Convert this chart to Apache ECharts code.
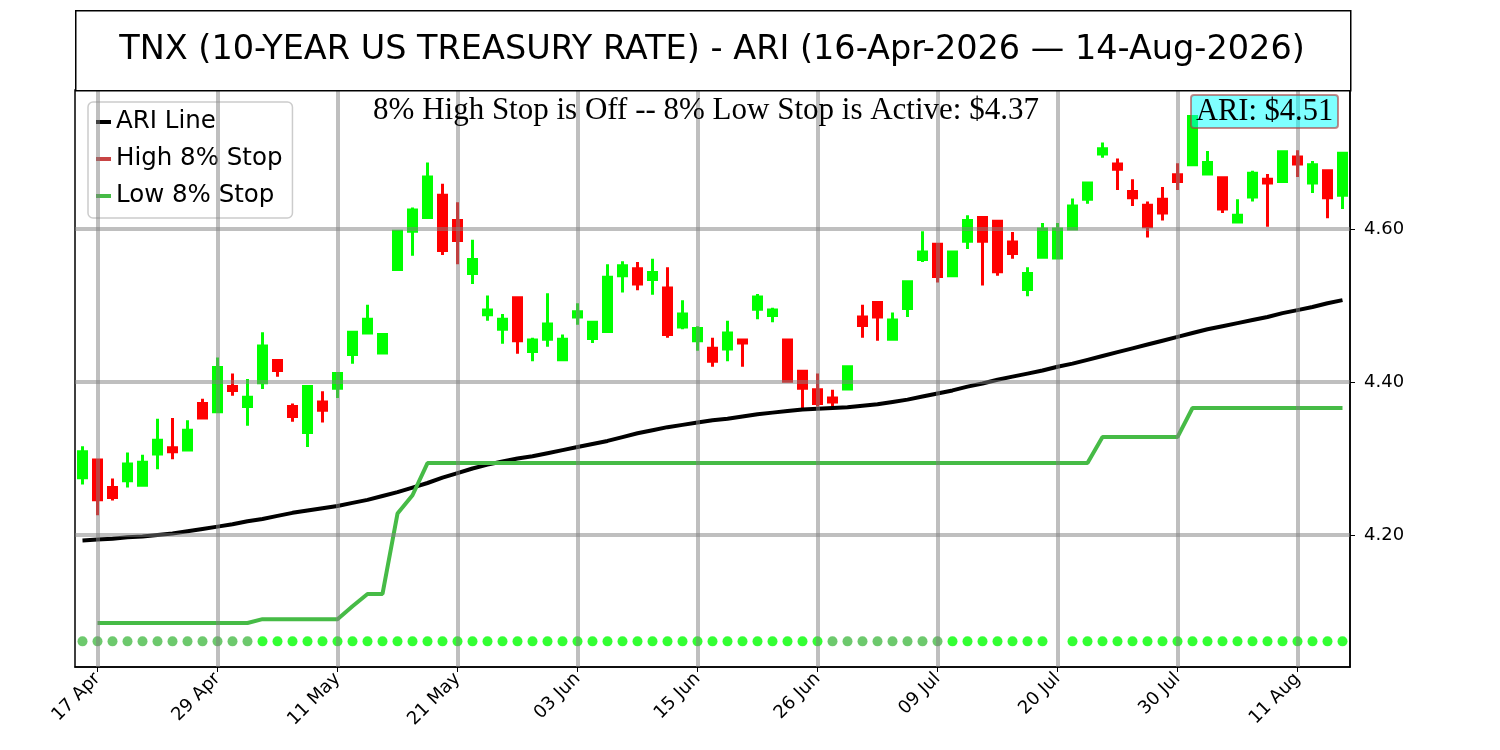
<!DOCTYPE html>
<html style="height: 100%">
<head>
<meta charset="utf-8">
<script src="https://cdn.jsdelivr.net/npm/echarts@6/dist/echarts.min.js"></script>
<style type="text/css">
  * { margin: 0; padding: 0; }
</style>
</head>
<body style="height: 100%; margin: 0; background: #fff">
<div id="container" style="width: 1500px; height: 750px"></div>
<script type="text/javascript">
// trading days shown on the x axis
var dates = ['16 Apr','17 Apr','20 Apr','21 Apr','22 Apr','23 Apr','24 Apr','27 Apr','28 Apr','29 Apr','30 Apr',
  '01 May','04 May','05 May','06 May','07 May','08 May','11 May','12 May','13 May','14 May','15 May','18 May','19 May',
  '20 May','21 May','22 May','26 May','27 May','28 May','29 May',
  '01 Jun','02 Jun','03 Jun','04 Jun','05 Jun','08 Jun','09 Jun','10 Jun','11 Jun','12 Jun','15 Jun','16 Jun','17 Jun',
  '18 Jun','22 Jun','23 Jun','24 Jun','25 Jun','26 Jun','29 Jun','30 Jun',
  '01 Jul','02 Jul','06 Jul','07 Jul','08 Jul','09 Jul','10 Jul','13 Jul','14 Jul','15 Jul','16 Jul','17 Jul','18 Jul',
  '20 Jul','21 Jul','22 Jul','23 Jul','24 Jul','27 Jul','28 Jul','29 Jul','30 Jul','31 Jul',
  '03 Aug','04 Aug','05 Aug','06 Aug','07 Aug','10 Aug','11 Aug','12 Aug','13 Aug','14 Aug'];

// labelled ticks (with grid lines)
var tickDates = ['17 Apr','29 Apr','11 May','21 May','03 Jun','15 Jun','26 Jun','09 Jul','20 Jul','30 Jul','11 Aug'];
var yTicks = [4.20, 4.40, 4.60];

// [open, close, low, high]
var ohlc = [
  [4.275,4.309,4.266,4.316],[4.298,4.246,4.226,4.298],[4.262,4.249,4.245,4.274],[4.271,4.293,4.262,4.308],
  [4.265,4.295,4.265,4.305],[4.306,4.324,4.286,4.352],[4.314,4.309,4.299,4.353],[4.311,4.337,4.311,4.350],
  [4.372,4.353,4.352,4.378],[4.361,4.419,4.361,4.432],[4.394,4.389,4.382,4.411],[4.368,4.380,4.343,4.404],
  [4.399,4.447,4.391,4.465],[4.428,4.415,4.407,4.430],[4.368,4.355,4.348,4.372],[4.334,4.394,4.315,4.396],
  [4.374,4.363,4.347,4.388],[4.392,4.411,4.379,4.411],[4.436,4.465,4.424,4.466],[4.464,4.482,4.462,4.501],
  [4.438,4.462,4.438,4.462],[4.547,4.597,4.547,4.599],[4.597,4.625,4.565,4.628],[4.615,4.668,4.613,4.687],
  [4.644,4.572,4.566,4.659],[4.611,4.585,4.554,4.635],[4.542,4.560,4.528,4.586],[4.488,4.494,4.480,4.513],
  [4.469,4.482,4.450,4.489],[4.510,4.454,4.437,4.510],[4.440,4.455,4.427,4.458],[4.456,4.476,4.446,4.516],
  [4.429,4.456,4.428,4.462],[4.485,4.492,4.475,4.503],[4.457,4.478,4.451,4.479],[4.466,4.537,4.466,4.554],
  [4.539,4.552,4.517,4.558],[4.548,4.528,4.520,4.557],[4.534,4.543,4.514,4.561],[4.523,4.462,4.458,4.550],
  [4.472,4.489,4.469,4.507],[4.454,4.470,4.441,4.473],[4.444,4.427,4.420,4.458],[4.443,4.464,4.427,4.480],
  [4.455,4.451,4.420,4.455],[4.495,4.511,4.482,4.515],[4.487,4.494,4.478,4.497],[4.455,4.401,4.399,4.455],
  [4.414,4.392,4.364,4.415],[4.390,4.372,4.368,4.411],[4.379,4.374,4.368,4.390],[4.391,4.420,4.389,4.422],
  [4.485,4.474,4.458,4.501],[4.504,4.485,4.454,4.504],[4.456,4.481,4.456,4.491],[4.496,4.531,4.485,4.533],
  [4.560,4.570,4.557,4.597],[4.580,4.538,4.530,4.581],[4.539,4.570,4.539,4.571],[4.584,4.611,4.574,4.618],
  [4.615,4.584,4.526,4.615],[4.610,4.544,4.539,4.610],[4.583,4.568,4.561,4.596],[4.521,4.542,4.512,4.550],
  [4.563,4.600,4.561,4.608],[4.562,4.600,4.560,4.608],[4.600,4.630,4.600,4.640],[4.639,4.660,4.633,4.661],
  [4.698,4.705,4.693,4.713],[4.685,4.678,4.651,4.692],[4.649,4.641,4.630,4.665],[4.631,4.603,4.589,4.636],
  [4.639,4.621,4.611,4.655],[4.671,4.662,4.651,4.686],[4.684,4.747,4.682,4.748],[4.672,4.687,4.672,4.702],
  [4.667,4.626,4.621,4.668],[4.609,4.618,4.609,4.639],[4.642,4.673,4.636,4.676],[4.665,4.660,4.603,4.672],
  [4.662,4.701,4.662,4.703],[4.694,4.685,4.668,4.703],[4.660,4.684,4.647,4.689],[4.676,4.641,4.614,4.676],
  [4.644,4.699,4.626,4.700]
];

var ariLine = [4.193,4.194,4.195,4.197,4.198,4.200,4.202,4.205,4.208,4.211,4.214,4.218,4.221,4.225,4.229,4.232,
  4.235,4.238,4.242,4.246,4.251,4.256,4.262,4.268,4.275,4.281,4.287,4.292,4.296,4.300,4.303,4.307,4.311,4.315,
  4.319,4.323,4.328,4.333,4.337,4.341,4.344,4.347,4.350,4.352,4.355,4.358,4.360,4.362,4.364,4.365,4.366,4.367,
  4.369,4.371,4.374,4.377,4.381,4.385,4.389,4.394,4.398,4.403,4.407,4.411,4.415,4.420,4.424,4.429,4.434,4.439,
  4.444,4.449,4.454,4.459,4.464,4.469,4.473,4.477,4.481,4.485,4.490,4.494,4.498,4.503,4.507];

// high stop is off
var highStop = [];

var lowStop = [null,4.085,4.085,4.085,4.085,4.085,4.085,4.085,4.085,4.085,4.085,4.085,4.090,4.090,4.090,4.090,
  4.090,4.090,4.107,4.123,4.123,4.228,4.252,4.294,4.294,4.294,4.294,4.294,4.294,4.294,4.294,4.294,4.294,4.294,
  4.294,4.294,4.294,4.294,4.294,4.294,4.294,4.294,4.294,4.294,4.294,4.294,4.294,4.294,4.294,4.294,4.294,4.294,
  4.294,4.294,4.294,4.294,4.294,4.294,4.294,4.294,4.294,4.294,4.294,4.294,4.294,4.294,4.294,4.294,4.328,4.328,
  4.328,4.328,4.328,4.328,4.366,4.366,4.366,4.366,4.366,4.366,4.366,4.366,4.366,4.366,4.366];

// signal dots along the bottom: 0 = dim, 1 = bright, null = none
var dotLevel = 4.061;
var dotState = [0,0,0,0,0,0,0,0,0,0,0,0,1,1,1,1,1,1,1,1,1,1,1,1,1,1,1,1,1,1,1,1,1,1,1,1,1,1,1,1,1,1,1,1,1,1,1,1,1,1,
  0,0,0,0,0,0,0,0,1,1,1,1,1,1,1,null,1,1,1,1,1,1,1,1,1,1,1,1,1,1,1,1,1,1,1];

var ariLast = 4.51;
var lowStopLast = 4.37;

var dom = document.getElementById('container');
var myChart = echarts.init(dom);

var isTick = function (i) { return tickDates.indexOf(dates[i]) >= 0; };

var gridLines = [];
tickDates.forEach(function (d) { gridLines.push({ xAxis: dates.indexOf(d) }); });
yTicks.forEach(function (v) { gridLines.push({ yAxis: v }); });

var dots = dotState.map(function (s) {
  if (s === null) return null;
  return { value: dotLevel, itemStyle: { color: s ? '#00ff00' : '#48bb48' } };
});

var sans = 'DejaVu Sans';
var serif = 'Liberation Serif';

var option = {
  animation: false,
  backgroundColor: '#fff',
  grid: { left: 75, top: 90, width: 1275, height: 577, show: true, borderColor: '#000', borderWidth: 1.5, backgroundColor: 'transparent' },
  legend: {
    data: [
      { name: 'ARI Line', icon: 'rect' },
      { name: 'High 8% Stop', icon: 'rect' },
      { name: 'Low 8% Stop', icon: 'rect' }
    ],
    orient: 'vertical', left: 88, top: 102,
    itemWidth: 15, itemHeight: 4, itemGap: 9,
    padding: [6, 10, 8, 8],
    backgroundColor: 'rgba(255,255,255,0.8)', borderColor: '#cccccc', borderWidth: 1.5, borderRadius: 5,
    textStyle: { fontFamily: sans, fontSize: 24.5, color: '#000', lineHeight: 28 },
    selectedMode: false
  },
  xAxis: {
    type: 'category', data: dates, boundaryGap: true,
    axisLine: { show: true, lineStyle: { color: '#000', width: 1.5 } },
    axisTick: { show: true, alignWithLabel: true, interval: isTick, length: 5, lineStyle: { color: '#000', width: 1 } },
    axisLabel: { interval: isTick, rotate: 45, margin: 9, fontFamily: sans, fontSize: 18, color: '#000' },
    splitLine: { show: false }
  },
  yAxis: {
    type: 'value', position: 'right', min: 4.0275, max: 4.7817, splitNumber: 4, minInterval: 0.2, maxInterval: 0.2,
    axisLine: { show: true, lineStyle: { color: '#000', width: 1.5 } },
    axisTick: { show: true, length: 5, lineStyle: { color: '#000', width: 1 } },
    axisLabel: { showMinLabel: false, showMaxLabel: false, margin: 14, fontFamily: sans, fontSize: 18, color: '#000',
      formatter: function (v) { return v.toFixed(2); } },
    splitLine: { show: false }
  },
  series: [
    {
      name: 'grid', type: 'line', data: [], z: 1, silent: true,
      markLine: {
        silent: true, symbol: ['none', 'none'], label: { show: false },
        lineStyle: { color: 'rgba(128,128,128,0.5)', width: 4, type: 'solid' },
        data: gridLines, animation: false
      }
    },
    {
      name: 'TNX', type: 'candlestick', data: ohlc, z: 2, barWidth: 8,
      itemStyle: { color: '#00ff00', color0: '#ff0000', borderColor: '#00ff00', borderColor0: '#ff0000', borderWidth: 3 }
    },
    {
      name: 'ARI Line', type: 'line', data: ariLine, z: 3, symbol: 'none', color: '#000',
      lineStyle: { color: '#000', width: 4 }
    },
    {
      name: 'High 8% Stop', type: 'line', data: highStop, z: 3, symbol: 'none', color: '#c84444',
      lineStyle: { color: '#c84444', width: 4 }
    },
    {
      name: 'Low 8% Stop', type: 'line', data: lowStop, z: 3, symbol: 'none', color: '#46bb46',
      lineStyle: { color: '#46bb46', width: 4 }
    },
    {
      name: 'signal', type: 'scatter', data: dots, z: 3, symbolSize: 10
    }
  ],
  graphic: [
    { type: 'rect', left: 75, top: 10, shape: { width: 1275, height: 80 },
      style: { fill: '#fff', stroke: '#000', lineWidth: 1.5 }, z: 10 },
    { type: 'text', x: 712, y: 50, z: 11,
      style: { text: 'TNX (10-YEAR US TREASURY RATE) - ARI (16-Apr-2026 \u2014 14-Aug-2026)',
        fontFamily: sans, fontSize: 33.5, fill: '#000', align: 'center', verticalAlign: 'middle' } },
    { type: 'text', x: 706, y: 111, z: 11,
      style: { text: '8% High Stop is Off -- 8% Low Stop is Active: $' + lowStopLast.toFixed(2),
        fontFamily: serif, fontSize: 31, fill: '#000', align: 'center', verticalAlign: 'middle' } },
    { type: 'rect', x: 1191, y: 95, z: 11, shape: { width: 147, height: 33, r: 3 },
      style: { fill: 'rgba(0,255,255,0.5)', stroke: 'rgba(170,60,60,0.6)', lineWidth: 2 } },
    { type: 'text', x: 1264.5, y: 112, z: 12,
      style: { text: 'ARI: $' + ariLast.toFixed(2), fontFamily: serif, fontSize: 30.5, fill: '#000', align: 'center', verticalAlign: 'middle' } }
  ]
};

myChart.setOption(option, true);
</script>
</body>
</html>
